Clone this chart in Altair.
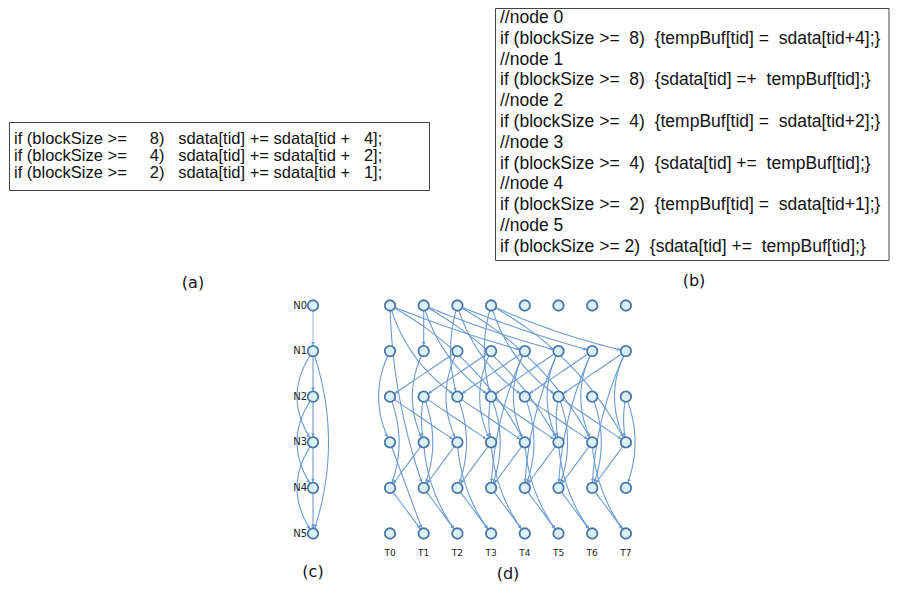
import altair as alt
import pandas as pd
import numpy as np

# ---------------- data ----------------
NB = "\u00a0"
code_a = [
    "if (blockSize >=" + NB * 5 + "8)" + NB * 3 + "sdata[tid] += sdata[tid +" + NB * 3 + "4];",
    "if (blockSize >=" + NB * 5 + "4)" + NB * 3 + "sdata[tid] += sdata[tid +" + NB * 3 + "2];",
    "if (blockSize >=" + NB * 5 + "2)" + NB * 3 + "sdata[tid] += sdata[tid +" + NB * 3 + "1];",
]
code_b = [
    "//node 0",
    "if (blockSize >=\u00a0\u00a08)\u00a0\u00a0{tempBuf[tid] =\u00a0\u00a0sdata[tid+4];}",
    "//node 1",
    "if (blockSize >=\u00a0\u00a08)\u00a0\u00a0{sdata[tid] =+\u00a0\u00a0tempBuf[tid];}",
    "//node 2",
    "if (blockSize >=\u00a0\u00a04)\u00a0\u00a0{tempBuf[tid] =\u00a0\u00a0sdata[tid+2];}",
    "//node 3",
    "if (blockSize >=\u00a0\u00a04)\u00a0\u00a0{sdata[tid] +=\u00a0\u00a0tempBuf[tid];}",
    "//node 4",
    "if (blockSize >=\u00a0\u00a02)\u00a0\u00a0{tempBuf[tid] =\u00a0\u00a0sdata[tid+1];}",
    "//node 5",
    "if (blockSize >= 2)\u00a0\u00a0{sdata[tid] +=\u00a0\u00a0tempBuf[tid];}",
]
panel_labels = ["(a)", "(b)", "(c)", "(d)"]
node_names = ["N0", "N1", "N2", "N3", "N4", "N5"]
thread_names = ["T0", "T1", "T2", "T3", "T4", "T5", "T6", "T7"]

# graph (c): edges between node rows
c_from = [0, 1, 2, 3, 4, 1, 2, 3, 1]
c_to = [1, 2, 3, 4, 5, 3, 4, 5, 5]
c_bend = [0, 0, 0, 0, 0, 0.35, 0.35, 0.35, -0.17]

# graph (d): edges (row_from, thread_from, row_to, thread_to, bend)
d_edges = [
    (0, 0, 1, 4, 0.03), (0, 1, 1, 5, 0.03), (0, 2, 1, 6, 0.03), (0, 3, 1, 7, 0.05),
    (0, 1, 1, 1, 0.0),
    (0, 0, 2, 2, 0.18), (0, 1, 2, 3, 0.18), (0, 2, 2, 4, 0.18), (0, 3, 2, 5, 0.18),
    (0, 0, 3, 4, -0.15), (0, 1, 3, 5, -0.15), (0, 2, 3, 6, -0.15), (0, 3, 3, 7, -0.15),
    (0, 0, 4, 1, 0.08), (0, 2, 2, 2, 0.15), (0, 3, 2, 3, 0.15),
    (1, 2, 2, 0, 0.0), (1, 3, 2, 1, 0.0), (1, 4, 2, 2, 0.0), (1, 5, 2, 3, 0.0),
    (1, 6, 2, 4, 0.0), (1, 7, 2, 5, 0.0),
    (1, 0, 3, 0, 0.25), (1, 1, 3, 1, 0.25), (1, 2, 3, 2, 0.25), (1, 3, 3, 3, 0.25),
    (1, 4, 3, 4, 0.25), (1, 5, 3, 5, 0.25), (1, 6, 3, 6, 0.25), (1, 7, 3, 7, 0.25),
    (1, 4, 4, 3, 0.1), (1, 5, 4, 4, 0.1), (1, 6, 4, 5, 0.1), (1, 7, 4, 6, 0.1),
    (2, 0, 3, 2, 0.0), (2, 1, 3, 3, 0.0), (2, 2, 3, 4, 0.0), (2, 3, 3, 5, 0.0),
    (2, 4, 3, 6, 0.0), (2, 5, 3, 7, 0.0),
    (2, 0, 4, 0, -0.2), (2, 1, 4, 1, -0.2), (2, 2, 4, 2, -0.2), (2, 3, 4, 3, -0.2),
    (2, 4, 4, 4, -0.2), (2, 5, 4, 5, -0.2), (2, 6, 4, 6, -0.2), (2, 7, 4, 7, -0.2),
    (2, 1, 3, 1, 0.1), (2, 3, 3, 3, 0.1), (2, 5, 3, 5, 0.1), (2, 7, 3, 7, 0.1),
    (3, 1, 4, 0, 0.0), (3, 2, 4, 1, 0.0), (3, 3, 4, 2, 0.0), (3, 4, 4, 3, 0.0),
    (3, 5, 4, 4, 0.0), (3, 6, 4, 5, 0.0), (3, 7, 4, 6, 0.0),
    (3, 0, 5, 1, 0.0), (3, 1, 5, 2, 0.15), (3, 2, 5, 3, 0.15), (3, 3, 5, 4, 0.15),
    (3, 4, 5, 5, 0.15), (3, 5, 5, 6, 0.15), (3, 6, 5, 7, 0.15),
    (4, 0, 5, 1, 0.0), (4, 1, 5, 2, 0.0), (4, 2, 5, 3, 0.0), (4, 3, 5, 4, 0.0),
    (4, 4, 5, 5, 0.0), (4, 5, 5, 6, 0.0), (4, 6, 5, 7, 0.0),
]

# ---------------- layout ----------------
W, H = 882, 575
COL_X0, COL_DX = 390.0, 33.7
ROW_Y0, ROW_DY = 305.5, 45.6
C_X = 313.0
NODE_R = 6.0
EDGE_COLOR = "#6b9bd0"
NODE_FILL = "#dcf0f8"
NODE_STROKE = "#4a77a6"


def bezier(p0, p2, bend, n=24):
    (x0, y0), (x2, y2) = p0, p2
    mx, my = (x0 + x2) / 2, (y0 + y2) / 2
    dx, dy = x2 - x0, y2 - y0
    cx, cy = mx - bend * dy, my + bend * dx
    t = np.linspace(0, 1, n)
    xs = (1 - t) ** 2 * x0 + 2 * (1 - t) * t * cx + t ** 2 * x2
    ys = (1 - t) ** 2 * y0 + 2 * (1 - t) * t * cy + t ** 2 * y2
    tx, ty = x2 - cx, y2 - cy
    return xs, ys, tx, ty


rows, arrows = [], []
eid = 0


def add_edge(p0, p2, bd, light=False):
    global eid
    xs, ys, tx, ty = bezier(p0, p2, bd)
    for i, (x, y) in enumerate(zip(xs, ys)):
        rows.append({"e": eid, "o": i, "x": x, "y": y, "c": "light" if light else "main"})
    L = float(np.hypot(tx, ty))
    ux, uy = tx / L, ty / L
    ax, ay = p2[0] - ux * (NODE_R + 2.0), p2[1] - uy * (NODE_R + 2.0)
    ang = float(np.degrees(np.arctan2(ux, -uy))) % 360
    arrows.append({"x": ax, "y": ay, "a": ang})
    eid += 1


for a, b, bd in zip(c_from, c_to, c_bend):
    add_edge((C_X, ROW_Y0 + a * ROW_DY), (C_X, ROW_Y0 + b * ROW_DY), bd, light=(a == 0))
for r1, t1, r2, t2, bd in d_edges:
    add_edge((COL_X0 + t1 * COL_DX, ROW_Y0 + r1 * ROW_DY),
             (COL_X0 + t2 * COL_DX, ROW_Y0 + r2 * ROW_DY), bd)
edges_df = pd.DataFrame(rows)
arrows_df = pd.DataFrame(arrows)

nodes = []
for k, nm in enumerate(node_names):
    nodes.append({"x": C_X, "y": ROW_Y0 + k * ROW_DY})
    for t in range(len(thread_names)):
        nodes.append({"x": COL_X0 + t * COL_DX, "y": ROW_Y0 + k * ROW_DY})
nodes_df = pd.DataFrame(nodes)

nlab_df = pd.DataFrame({"x": [C_X - 6] * len(node_names),
                        "y": [ROW_Y0 + k * ROW_DY for k in range(len(node_names))],
                        "t": node_names})
tlab_df = pd.DataFrame({"x": [COL_X0 + t * COL_DX for t in range(len(thread_names))],
                        "y": [553] * len(thread_names), "t": thread_names})
code_a_df = pd.DataFrame({"x": [14] * 3, "y": [139 + 17 * i for i in range(3)], "t": code_a})
code_b_df = pd.DataFrame({"x": [500] * len(code_b),
                          "y": [18 + 20.8 * i for i in range(len(code_b))], "t": code_b})
plab_df = pd.DataFrame({"x": [193, 694, 313, 508], "y": [283, 281, 572, 574], "t": panel_labels})
box_df = pd.DataFrame({"x": [9.5, 495.5], "x2": [429.5, 889.0], "y": [122.5, 8.5], "y2": [190.5, 260.5]})

xs = alt.Scale(domain=[8, 8 + W], nice=False, zero=False)
ys = alt.Scale(domain=[8, 8 + H], nice=False, zero=False, reverse=True)
X = lambda f="x": alt.X(f"{f}:Q", scale=xs, axis=None)
Y = lambda f="y": alt.Y(f"{f}:Q", scale=ys, axis=None)

boxes = alt.Chart(box_df).mark_rect(fill=None, stroke="#444444", strokeWidth=1).encode(
    x=X(), x2="x2:Q", y=Y(), y2="y2:Q")
edges = alt.Chart(edges_df).mark_line(strokeWidth=1.1).encode(
    x=X(), y=Y(), detail="e:N", order="o:Q",
    color=alt.Color("c:N", scale=alt.Scale(domain=["main", "light"], range=[EDGE_COLOR, "#9cc0e4"]),
                    legend=None))
arrow_marks = alt.Chart(arrows_df).mark_point(
    shape="triangle", filled=True, size=14, color=EDGE_COLOR, opacity=1).encode(
    x=X(), y=Y(), angle=alt.Angle("a:Q", scale=None))
node_marks = alt.Chart(nodes_df).mark_circle(
    size=110, fill=NODE_FILL, stroke=NODE_STROKE, strokeWidth=1.8, opacity=1).encode(x=X(), y=Y())
nlab = alt.Chart(nlab_df).mark_text(align="right", baseline="middle", font="DejaVu Sans",
                                    fontSize=10, color="#222222").encode(x=X(), y=Y(), text="t:N")
tlab = alt.Chart(tlab_df).mark_text(align="center", baseline="middle", font="DejaVu Sans",
                                    fontSize=9, color="#222222").encode(x=X(), y=Y(), text="t:N")
ca = alt.Chart(code_a_df).mark_text(align="left", baseline="middle", font="Liberation Sans",
                                    fontSize=16.5, color="#111111").encode(x=X(), y=Y(), text="t:N")
cb = alt.Chart(code_b_df).mark_text(align="left", baseline="middle", font="Liberation Sans",
                                    fontSize=17.5, color="#111111").encode(x=X(), y=Y(), text="t:N")
pl = alt.Chart(plab_df).mark_text(align="center", baseline="middle", font="DejaVu Sans",
                                  fontSize=16, color="#111111").encode(x=X(), y=Y(), text="t:N")

chart = alt.layer(boxes, edges, arrow_marks, node_marks, nlab, tlab, ca, cb, pl).properties(
    width=W, height=H, padding=0, autosize="none"
).configure_view(stroke=None)

chart.save("out.html", embed_options={"renderer": "svg", "actions": False})
